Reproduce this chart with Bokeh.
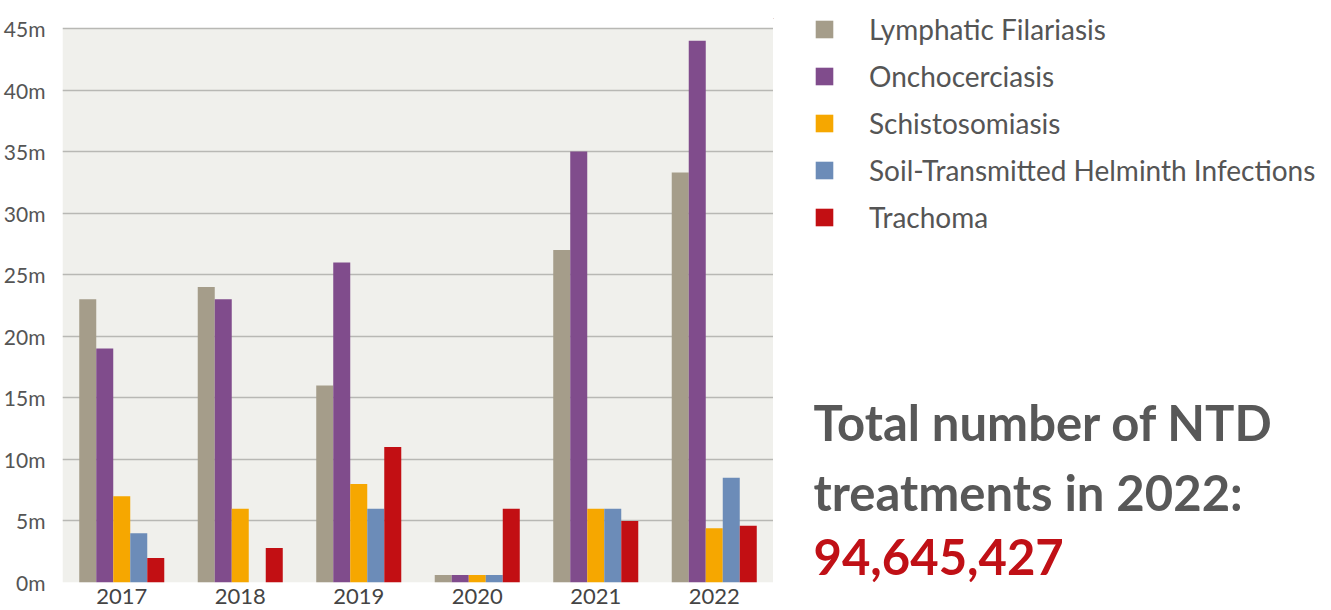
from bokeh.plotting import figure
from bokeh.layouts import row
from bokeh.models import (ColumnDataSource, FactorRange, Legend, LegendItem, FixedTicker,
                          PrintfTickFormatter, Range1d, BoxAnnotation)
from bokeh.core.properties import value
from bokeh.transform import dodge
from bokeh.embed import file_html
from bokeh.resources import INLINE

years = ["2017", "2018", "2019", "2020", "2021", "2022"]
series_names = ["Lymphatic Filariasis", "Onchocerciasis", "Schistosomiasis",
                "Soil-Transmitted Helminth Infections", "Trachoma"]
lymphatic = [23, 24, 16, 0.6, 27, 33.3]
oncho = [19, 23, 26, 0.6, 35, 44]
schisto = [7, 6, 8, 0.6, 6, 4.4]
sth = [4, 0, 6, 0.6, 6, 8.5]
trachoma = [2, 2.8, 11, 6, 5, 4.6]
colors = ["#a59d8a", "#804c8c", "#f6a700", "#6c8cb8", "#c20f13"]
y_ticks = [0, 5, 10, 15, 20, 25, 30, 35, 40, 45]
headline = ["Total number of NTD", "treatments in 2022:", "94,645,427"]
headline_colors = ["#585858", "#585858", "#c01016"]

src = ColumnDataSource(dict(year=years, lf=lymphatic, on=oncho, sc=schisto, st=sth, tr=trachoma))
cols = ["lf", "on", "sc", "st", "tr"]

p = figure(x_range=FactorRange(*years), y_range=Range1d(0, 45.81), title=None,
           frame_width=711, frame_height=564,
           min_border_left=56, min_border_right=0, min_border_top=18, min_border_bottom=0,
           output_backend="svg", toolbar_location=None,
           background_fill_color="white", border_fill_color="white", outline_line_color=None)

# plot-area shading only up to the 45m line
p.add_layout(BoxAnnotation(bottom=0, top=45, fill_color="#f0f0ec", fill_alpha=1.0,
                           line_color=None, level="image"))

bw = 0.1435
for i, (c, col) in enumerate(zip(cols, colors)):
    p.vbar(x=dodge("year", (i - 2) * bw, range=p.x_range), top=c, width=bw,
           source=src, fill_color=col, line_color=None)

p.xgrid.visible = False
p.ygrid.grid_line_color = "#b8b8b4"
p.ygrid.grid_line_width = 1.5
p.yaxis.ticker = FixedTicker(ticks=y_ticks)
p.ygrid.ticker = FixedTicker(ticks=y_ticks)
p.yaxis.formatter = PrintfTickFormatter(format="%dm")
for ax in (p.xaxis[0], p.yaxis[0]):
    ax.axis_line_color = None
    ax.major_tick_line_color = None
    ax.minor_tick_line_color = None
    ax.major_label_text_font = "Lato"
    ax.major_label_text_color = "#555555"
p.yaxis.major_label_text_font_size = "21px"
p.xaxis.major_label_text_font_size = "22px"
p.yaxis.major_label_standoff = 11
p.xaxis.major_label_standoff = 0
p.xaxis.major_label_text_color = "#444444"

# right-hand panel: legend and headline (frame is aligned with the chart frame)
p2 = figure(width=548, height=606, x_range=Range1d(0, 548), y_range=Range1d(582, 18), title=None,
            min_border=0, output_backend="svg", toolbar_location=None,
            outline_line_color=None, background_fill_color="white", border_fill_color="white")
p2.axis.visible = False
p2.grid.visible = False

items = []
for name, col in zip(series_names, colors):
    r = p2.vbar(x=[-1000], top=[0], width=1, fill_color=col, line_color=None)
    items.append(LegendItem(label=name, renderers=[r]))

legend = Legend(items=items, location=(40, 347), orientation="vertical",
                glyph_width=22, glyph_height=22, label_height=36, label_standoff=34,
                spacing=11, padding=0, margin=0,
                label_text_font="Lato", label_text_font_size="28px", label_text_color="#555555",
                background_fill_alpha=0, border_line_alpha=0)
p2.add_layout(legend)

tsrc = ColumnDataSource(dict(x=[40, 40, 40], y=[421, 491, 556], t=headline, c=headline_colors))
p2.text(x="x", y="y", text="t", text_color="c", source=tsrc,
        text_font=value("Lato"), text_font_style="bold", text_font_size="49px",
        text_baseline="alphabetic", text_align="left")

layout = row(p, p2)
open("out.html", "w").write(file_html(layout, INLINE))
